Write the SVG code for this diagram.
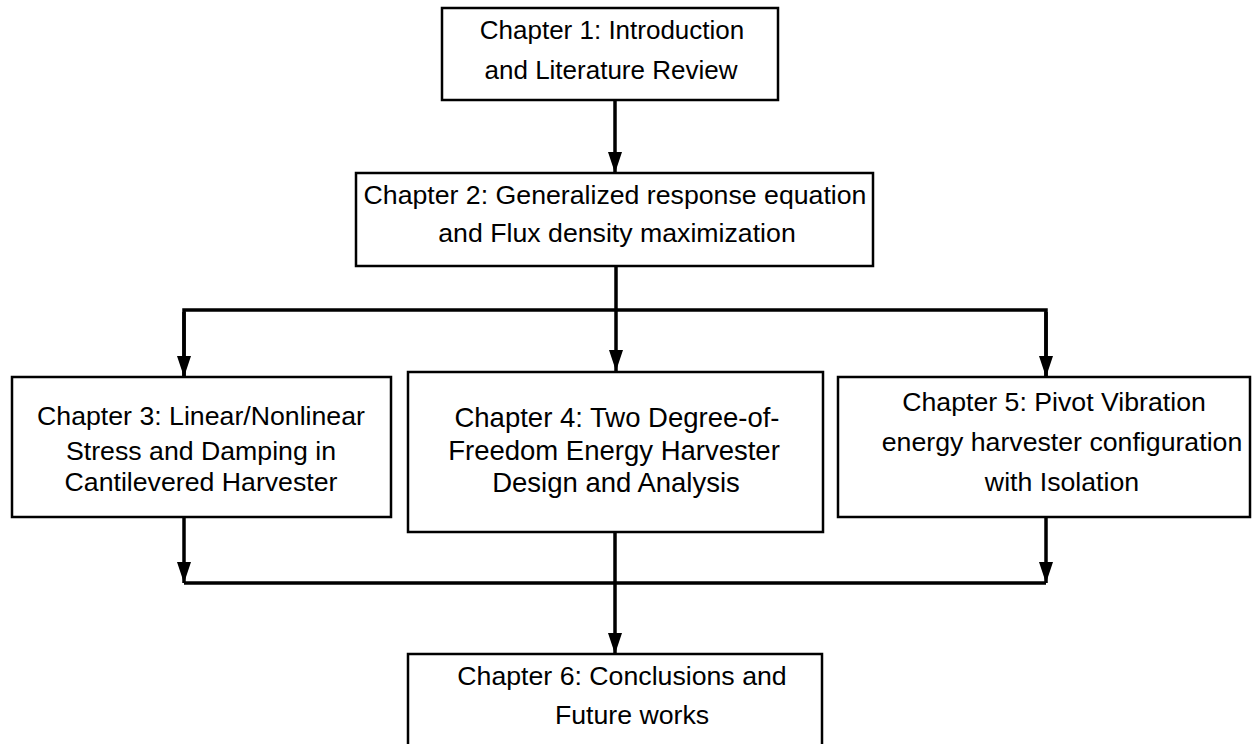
<svg xmlns="http://www.w3.org/2000/svg" width="1252" height="744" viewBox="0 0 1252 744">
<style>
.box{fill:#fff;stroke:#000;stroke-width:2.5}
.t{font-family:"Liberation Sans",Arial,sans-serif;font-size:26.7px;fill:#000;text-anchor:middle}
#ch1 .t{font-size:26px}
#ch4 .t{font-size:27.5px}
.c{fill:none;stroke:#000;stroke-width:3.5}
</style>
<defs>
<marker id="ah" markerUnits="userSpaceOnUse" markerWidth="22" markerHeight="14" refX="21" refY="7" orient="auto">
<path d="M0,0 L21,7 L0,14 z" fill="#000"/>
</marker>
</defs>
<rect width="1252" height="744" fill="#fff"/>
<g id="connectors">
<line class="c" x1="615" y1="100" x2="615" y2="173" marker-end="url(#ah)"/>
<line class="c" x1="616" y1="266" x2="616" y2="371" marker-end="url(#ah)"/>
<polyline class="c" points="184,377 184,310 1046,310 1046,377"/>
<line class="c" x1="184" y1="312" x2="184" y2="377" marker-end="url(#ah)"/>
<line class="c" x1="1046" y1="312" x2="1046" y2="377" marker-end="url(#ah)"/>
<line class="c" x1="184" y1="517" x2="184" y2="583" marker-end="url(#ah)"/>
<line class="c" x1="1046" y1="517" x2="1046" y2="583" marker-end="url(#ah)"/>
<line class="c" x1="184" y1="583" x2="1046" y2="583"/>
<line class="c" x1="615" y1="532" x2="615" y2="654" marker-end="url(#ah)"/>
</g>
<g id="ch1">
<rect class="box" x="442" y="8" width="336" height="92"/>
<text class="t" x="612" y="39">Chapter 1: Introduction</text>
<text class="t" x="611" y="79">and Literature Review</text>
</g>
<g id="ch2">
<rect class="box" x="356" y="173" width="517" height="93"/>
<text class="t" x="615" y="204">Chapter 2: Generalized response equation</text>
<text class="t" x="617" y="242">and Flux density maximization</text>
</g>
<g id="ch3">
<rect class="box" x="12" y="377" width="379" height="140"/>
<text class="t" x="201" y="425">Chapter 3: Linear/Nonlinear</text>
<text class="t" x="201" y="460">Stress and Damping in</text>
<text class="t" x="201" y="491">Cantilevered Harvester</text>
</g>
<g id="ch4">
<rect class="box" x="408" y="372" width="415" height="160"/>
<text class="t" x="617" y="427">Chapter 4: Two Degree-of-</text>
<text class="t" x="614" y="460">Freedom Energy Harvester</text>
<text class="t" x="616" y="492">Design and Analysis</text>
</g>
<g id="ch5">
<rect class="box" x="838" y="377" width="412" height="140"/>
<text class="t" x="1054" y="411">Chapter 5: Pivot Vibration</text>
<text class="t" x="1062" y="451">energy harvester configuration</text>
<text class="t" x="1062" y="491">with Isolation</text>
</g>
<g id="ch6">
<rect class="box" x="408" y="654" width="414" height="110"/>
<text class="t" x="622" y="685">Chapter 6: Conclusions and</text>
<text class="t" x="632" y="724">Future works</text>
</g>
</svg>
